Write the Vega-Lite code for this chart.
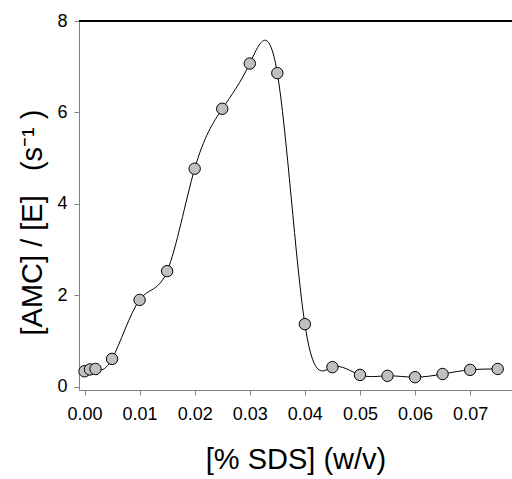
{
  "$schema": "https://vega.github.io/schema/vega-lite/v6.json",
  "width": 433,
  "height": 369,
  "autosize": {"type": "none"},
  "padding": {"left": 79, "top": 21, "right": 0, "bottom": 89},
  "background": "white",
  "config": {
    "view": {"stroke": null},
    "font": "Liberation Sans",
    "axis": {"grid": false, "domainColor": "#808080", "tickColor": "#808080", "labelColor": "black", "titleColor": "black", "labelFont": "Liberation Sans", "titleFont": "Liberation Sans", "titleFontWeight": "normal", "labelFontSize": 18, "titleFontSize": 29, "tickSize": 5}
  },
  "data": {
    "values": [
      {"sds": 0.000, "rate": 0.34},
      {"sds": 0.001, "rate": 0.38},
      {"sds": 0.002, "rate": 0.39},
      {"sds": 0.005, "rate": 0.61},
      {"sds": 0.010, "rate": 1.90},
      {"sds": 0.015, "rate": 2.53},
      {"sds": 0.020, "rate": 4.77},
      {"sds": 0.025, "rate": 6.08},
      {"sds": 0.030, "rate": 7.07},
      {"sds": 0.035, "rate": 6.86},
      {"sds": 0.040, "rate": 1.37},
      {"sds": 0.045, "rate": 0.43},
      {"sds": 0.050, "rate": 0.26},
      {"sds": 0.055, "rate": 0.24},
      {"sds": 0.060, "rate": 0.21},
      {"sds": 0.065, "rate": 0.28},
      {"sds": 0.070, "rate": 0.37},
      {"sds": 0.075, "rate": 0.39}
    ]
  },
  "encoding": {
    "x": {"field": "sds", "type": "quantitative", "scale": {"domain": [-0.001, 0.0776], "nice": false, "zero": false},
      "axis": {"values": [0, 0.01, 0.02, 0.03, 0.04, 0.05, 0.06, 0.07], "format": ".2f", "title": "[% SDS] (w/v)", "labelPadding": 10, "titlePadding": 22}},
    "y": {"field": "rate", "type": "quantitative", "scale": {"domain": [-0.07, 8], "nice": false, "zero": false},
      "axis": {"values": [0, 2, 4, 6, 8], "title": "[AMC] / [E]\u00a0\u00a0\u00a0(s⁻¹\u00a0)", "labelPadding": 7, "titlePadding": 9, "titleY": 201}}
  },
  "layer": [
    {"mark": {"type": "rule", "color": "black", "strokeWidth": 1.5}, "encoding": {"y": {"datum": 8}, "x": null}},
    {"mark": {"type": "line", "interpolate": "natural", "color": "black", "strokeWidth": 1}},
    {"mark": {"type": "point", "filled": true, "fill": "#c0c0c0", "stroke": "black", "strokeWidth": 1, "size": 130, "opacity": 1}}
  ]
}
